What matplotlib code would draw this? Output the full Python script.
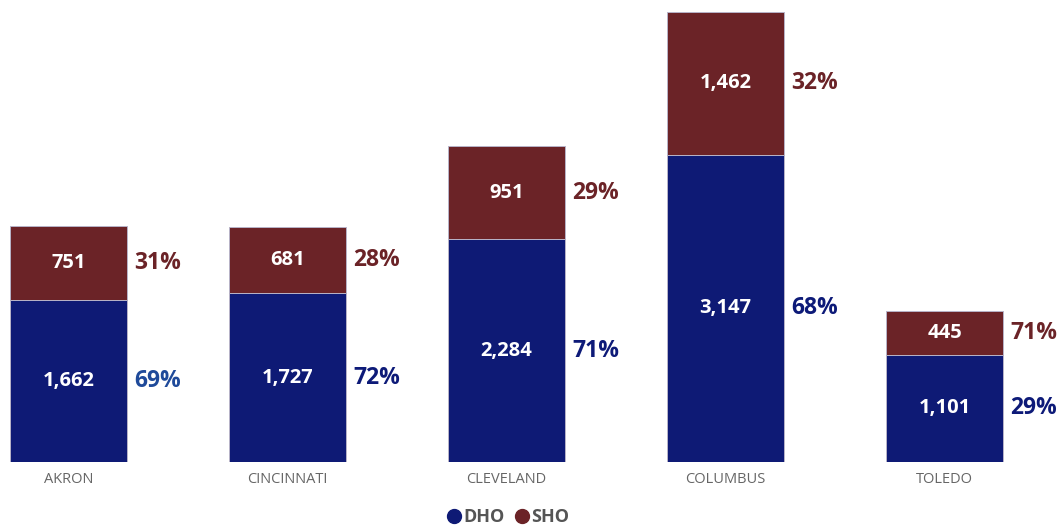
import matplotlib.pyplot as plt
import numpy as np
from matplotlib.lines import Line2D

plt.rcParams['font.family'] = ['Open Sans', 'DejaVu Sans']

cities = ['AKRON', 'CINCINNATI', 'CLEVELAND', 'COLUMBUS', 'TOLEDO']
dho = [1662, 1727, 2284, 3147, 1101]
sho = [751, 681, 951, 1462, 445]
dho_pct = ['69%', '72%', '71%', '68%', '29%']
sho_pct = ['31%', '28%', '29%', '32%', '71%']
dho_pct_colors = ['#1f4a9a', '#0d1a78', '#0d1a78', '#0d1a78', '#0d1a78']

dho_color = '#0e1a75'
sho_color = '#6b2327'

fig = plt.figure(figsize=(10.63, 5.29), dpi=100)
ax = fig.add_axes([0, 67 / 529, 1, 450 / 529])

x = np.arange(len(cities))
width = 0.534
edge = '#b8b4c8'

ax.bar(x, dho, width=width, color=dho_color, edgecolor=edge, linewidth=0.7, label='DHO')
ax.bar(x, sho, width=width, bottom=dho, color=sho_color, edgecolor=edge, linewidth=0.7, label='SHO')

for i in range(len(cities)):
    ax.text(x[i], dho[i] / 2, '{:,}'.format(dho[i]), ha='center', va='center',
            color='white', fontsize=14.5, fontweight='bold')
    ax.text(x[i], dho[i] + sho[i] / 2, '{:,}'.format(sho[i]), ha='center', va='center',
            color='white', fontsize=14.5, fontweight='bold')
    ax.text(x[i] + width / 2 + 0.035, dho[i] / 2, dho_pct[i], ha='left', va='center',
            color=dho_pct_colors[i], fontsize=16.5, fontweight='bold')
    ax.text(x[i] + width / 2 + 0.035, dho[i] + sho[i] / 2, sho_pct[i], ha='left', va='center',
            color=sho_color, fontsize=16.5, fontweight='bold')

ax.set_xlim(-68.5 / 219, (1063 - 68.5) / 219)
ax.set_ylim(0, 4609)
ax.set_xticks(x)
ax.set_xticklabels(cities, color='#666666', fontsize=10.5)
ax.tick_params(axis='x', length=0, pad=7)
ax.set_yticks([])
for s in ax.spines.values():
    s.set_visible(False)

handles = [Line2D([], [], marker='o', linestyle='', color=dho_color, markersize=10),
           Line2D([], [], marker='o', linestyle='', color=sho_color, markersize=10)]
leg = ax.legend(handles, ['DHO', 'SHO'], loc='center', bbox_to_anchor=(508 / 1063, -55 / 450),
                ncol=2, frameon=False, handlelength=0.8, handletextpad=0.1, columnspacing=0.6,
                prop={'size': 13, 'weight': 'bold'})
for t in leg.get_texts():
    t.set_color('#555555')

fig.savefig('out.png', dpi=100)
